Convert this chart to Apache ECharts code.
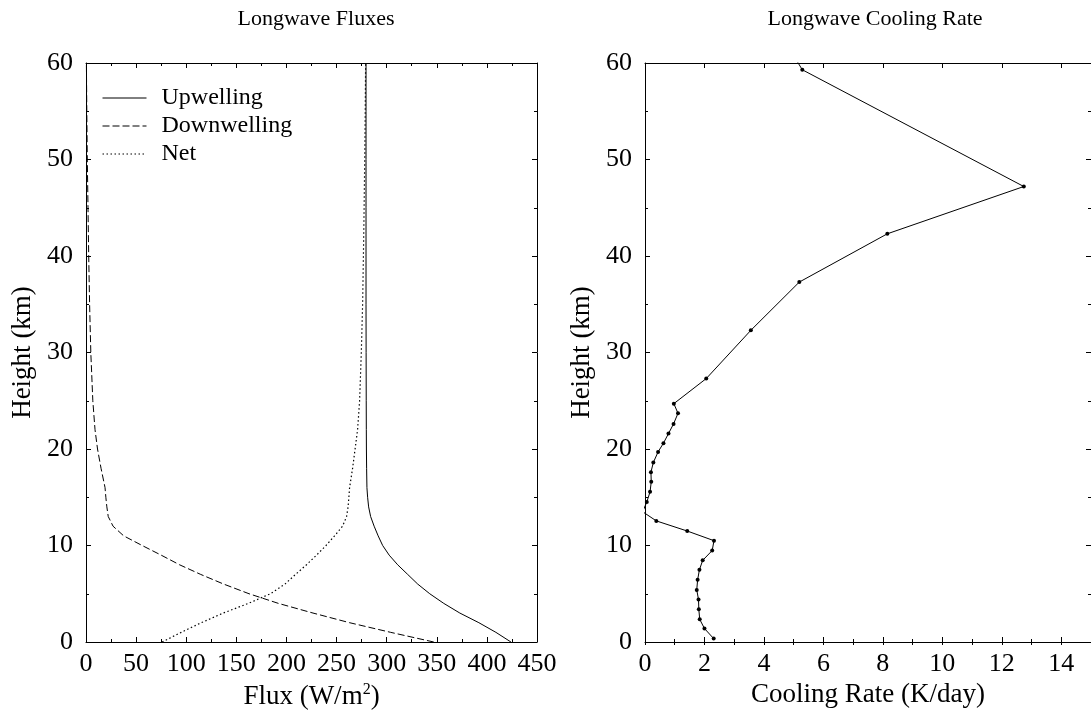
<!DOCTYPE html>
<html><head><meta charset="utf-8">
<script src="https://cdn.jsdelivr.net/npm/echarts@6/dist/echarts.min.js"></script>
<style>html,body{margin:0;padding:0;background:#fff}#c{width:1091px;height:724px}</style>
</head><body><div id="c"></div>
<script>
// ---- data ----
const fluxHeights = [0,1,2,3,4,5,6,7,8,9,10,11,12,13,14,15,16,18,20,22,25,30,35,40,45,50,55,60];
const upwelling   = [424,409,392,373,357,343,331,321,311,302.5,296,291.5,287.5,284,282,281,280.3,280,279.8,279.7,279.6,279.5,279.4,279.4,279.4,279.4,279.4,279.4];
const downwelling = [347,304,263,226.5,192,162.7,137.4,114.5,93.4,75,56,37.6,27,22.2,20.8,19.8,19,15,11.5,9,6.8,4.8,3.6,2.7,2,1.3,0.8,0.4];
const netFlux     = [76,95,115,137,162,184,198.5,209,220,230,239.5,248,256,260,261.5,262.3,263,266,268.5,271,273,274.7,276,276.8,277.5,278.1,278.6,279];

const rateHeights = [0.35,1.4,2.35,3.4,4.4,5.4,6.45,7.48,8.46,9.48,10.5,11.5,12.55,13.5,14.5,15.56,16.6,17.6,18.6,19.7,20.6,21.6,22.6,23.7,24.7,27.3,32.3,37.3,42.3,47.2,59.3,64.3];
const coolingRate = [2.31,2.0,1.84,1.81,1.8,1.74,1.77,1.83,1.94,2.26,2.32,1.42,0.38,-0.08,0.06,0.17,0.21,0.2,0.28,0.44,0.62,0.79,0.96,1.11,0.97,2.06,3.56,5.19,8.15,12.74,5.29,4.3];

const seriesNames = ['Upwelling','Downwelling','Net'];
const titles = ['Longwave Fluxes','Longwave Cooling Rate'];

const FONT = 'Liberation Serif';
const FS = 26;
const NFS = 27;
const BLACK = '#000';

function pairs(xs, hs){ return xs.map((v,i)=>[v, hs[i]]); }

function axis(o){
  const base = {
    type:'value',
    axisLine:{show:true, onZero:false, lineStyle:{color:BLACK, width:1}},
    axisTick:{show:true, inside:true, length:5, lineStyle:{color:BLACK, width:1}},
    splitLine:{show:false},
    axisLabel:{show:false, color:BLACK, fontFamily:FONT, fontSize:FS},
    nameTextStyle:{color:BLACK, fontFamily:FONT, fontSize:NFS}
  };
  return Object.assign(base, o);
}
const minor = {show:true, splitNumber:2, length:3, lineStyle:{color:BLACK, width:1}};

const chart = echarts.init(document.getElementById('c'), null, {renderer:'canvas'});
chart.setOption({
  animation:false,
  backgroundColor:'#fff',
  textStyle:{fontFamily:FONT, color:BLACK},
  title:[
    {text:titles[0], left:311, top:3, textAlign:'center', textStyle:{fontFamily:FONT, fontSize:22, fontWeight:'normal', color:BLACK}},
    {text:titles[1], left:870, top:3, textAlign:'center', textStyle:{fontFamily:FONT, fontSize:22, fontWeight:'normal', color:BLACK}}
  ],
  legend:{
    data:seriesNames, orient:'vertical', left:102, top:86, padding:0,
    itemWidth:44, itemHeight:14, itemGap:4,
    itemStyle:{opacity:0},
    lineStyle:{width:1},
    textStyle:{fontFamily:FONT, fontSize:24, color:BLACK, padding:[0,0,0,10], lineHeight:21},
    inactiveColor:'#000', selectedMode:false
  },
  grid:[
    {left:86, top:63, width:451, height:579},
    {left:645, top:63, width:450, height:579}
  ],
  xAxis:[
    axis({gridIndex:0, position:'bottom', min:0, max:450, interval:50, minorTick:minor,
      axisLabel:{show:true, color:BLACK, fontFamily:FONT, fontSize:FS, margin:9},
      name:'{t|Flux (W/m}{s|2}{t|)}', nameLocation:'middle', nameGap:38,
      nameTextStyle:{color:BLACK, rich:{t:{fontFamily:FONT, fontSize:NFS, color:BLACK, lineHeight:30}, s:{fontFamily:FONT, fontSize:16, color:BLACK, verticalAlign:'top'}}}}),
    axis({gridIndex:0, position:'top', min:0, max:450, interval:50, minorTick:minor}),
    axis({gridIndex:1, position:'bottom', min:0, max:15, interval:2,
      axisLabel:{show:true, showMaxLabel:false, color:BLACK, fontFamily:FONT, fontSize:FS, margin:9},
      name:'Cooling Rate (K/day)', nameLocation:'middle', nameGap:33}),
    axis({gridIndex:1, position:'bottom', min:0, max:15, interval:1, axisLine:{show:false}, axisTick:{show:true, inside:true, length:3, lineStyle:{color:BLACK}}}),
    axis({gridIndex:1, position:'top', min:0, max:15, interval:2}),
    axis({gridIndex:1, position:'top', min:0, max:15, interval:1, axisLine:{show:false}, axisTick:{show:true, inside:true, length:3, lineStyle:{color:BLACK}}})
  ],
  yAxis:[
    axis({gridIndex:0, position:'left', min:0, max:60, interval:10, minorTick:minor,
      axisLabel:{show:true, color:BLACK, fontFamily:FONT, fontSize:FS, margin:13},
      name:'Height (km)', nameLocation:'middle', nameGap:50, nameRotate:90}),
    axis({gridIndex:0, position:'right', min:0, max:60, interval:10, minorTick:minor}),
    axis({gridIndex:1, position:'left', min:0, max:60, interval:10, minorTick:minor,
      axisLabel:{show:true, color:BLACK, fontFamily:FONT, fontSize:FS, margin:13},
      name:'Height (km)', nameLocation:'middle', nameGap:50, nameRotate:90}),
    axis({gridIndex:1, position:'right', min:0, max:60, interval:10, minorTick:minor})
  ],
  series:[
    {name:seriesNames[0], type:'line', xAxisIndex:0, yAxisIndex:0, data:pairs(upwelling, fluxHeights), symbol:'none', smooth:false,
      lineStyle:{color:BLACK, width:1, type:'solid'}, itemStyle:{color:BLACK}},
    {name:seriesNames[1], type:'line', xAxisIndex:0, yAxisIndex:0, data:pairs(downwelling, fluxHeights), symbol:'none', smooth:false,
      lineStyle:{color:BLACK, width:1, type:[7,3]}, itemStyle:{color:BLACK}},
    {name:seriesNames[2], type:'line', xAxisIndex:0, yAxisIndex:0, data:pairs(netFlux, fluxHeights), symbol:'none', smooth:false,
      lineStyle:{color:BLACK, width:1.2, type:[1.5,2.5]}, itemStyle:{color:BLACK}},
    {name:'Cooling Rate', type:'line', xAxisIndex:2, yAxisIndex:2, data:pairs(coolingRate, rateHeights), symbol:'circle', symbolSize:4, clip:true,
      lineStyle:{color:BLACK, width:1}, itemStyle:{color:BLACK}}
  ]
});
</script></body></html>
